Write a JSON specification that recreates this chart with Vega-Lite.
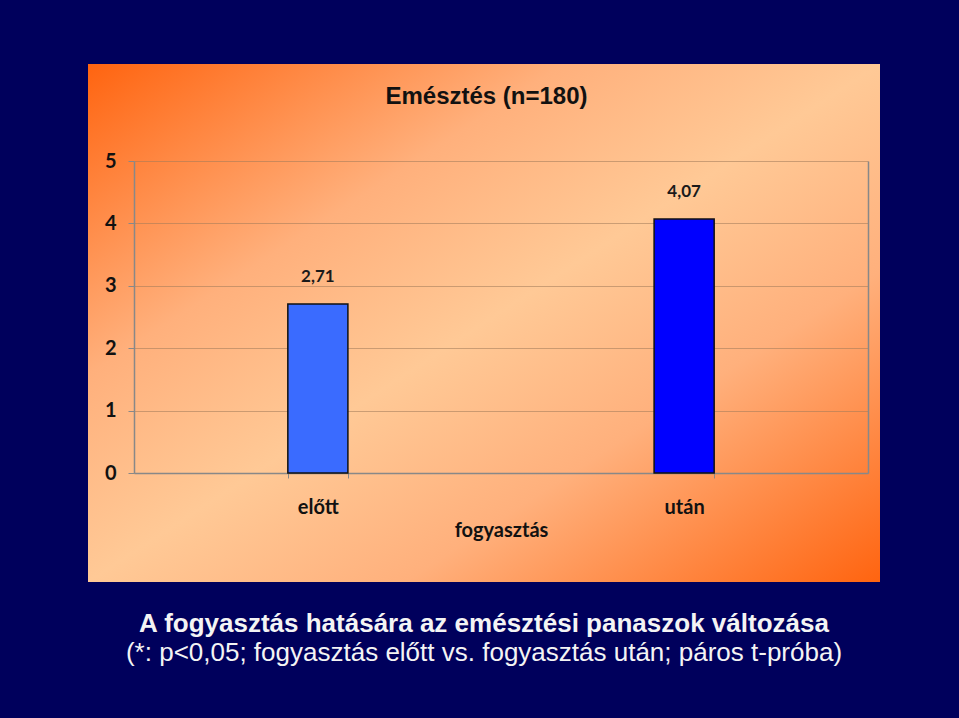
{
  "$schema": "https://vega.github.io/schema/vega-lite/v6.json",
  "autosize": {"type": "none"},
  "width": 792,
  "height": 518,
  "padding": {"left": 88, "top": 64, "right": 79, "bottom": 136},
  "background": "#00005c",
  "title": {
    "text": "A fogyasztás hatására az emésztési panaszok változása",
    "subtitle": "(*: p<0,05; fogyasztás előtt vs. fogyasztás után; páros t-próba)",
    "orient": "bottom",
    "anchor": "middle",
    "offset": 29,
    "baseline": "top",
    "font": "Liberation Sans",
    "fontSize": 26,
    "fontWeight": "bold",
    "color": "#f4f4f4",
    "subtitleFont": "Liberation Sans",
    "subtitleFontSize": 26,
    "subtitleFontWeight": "normal",
    "subtitleColor": "#f4f4f4",
    "subtitlePadding": 3
  },
  "data": {
    "values": [
      {"fogyasztás": "előtt", "érték": 2.71},
      {"fogyasztás": "után", "érték": 4.07}
    ]
  },
  "layer": [
    {
      "mark": {"type": "bar", "stroke": "#111111", "strokeWidth": 1.5},
      "encoding": {
        "x": {
          "field": "fogyasztás",
          "type": "nominal",
          "sort": null,
          "scale": {"range": [46, 780], "paddingInner": 0.836, "paddingOuter": 0.42},
          "axis": {
            "orient": "bottom",
            "offset": -109,
            "title": "fogyasztás",
            "titleFont": "Lato",
            "titleFontSize": 20,
            "titleFontWeight": "bold",
            "titleColor": "#111111",
            "titlePadding": 3,
            "labelAngle": 0,
            "labelFont": "Lato",
            "labelFontSize": 20,
            "labelFontWeight": "bold",
            "labelColor": "#111111",
            "labelPadding": 19,
            "labelBaseline": "top",
            "tickBand": "extent",
            "tickSize": 5,
            "tickColor": "#888888",
            "domainColor": "#888888",
            "domainWidth": 1.5,
            "grid": false
          }
        },
        "y": {
          "field": "érték",
          "type": "quantitative",
          "scale": {"domain": [0, 5], "range": [409, 97], "nice": false},
          "axis": {
            "orient": "left",
            "offset": -46,
            "title": null,
            "values": [0, 1, 2, 3, 4, 5],
            "format": "d",
            "labelFont": "Lato",
            "labelFontSize": 20,
            "labelFontWeight": "bold",
            "labelColor": "#111111",
            "labelPadding": 12,
            "tickSize": 6,
            "tickColor": "#888888",
            "domainColor": "#888888",
            "domainWidth": 1.5,
            "grid": true,
            "gridColor": "#a07a5a",
            "gridOpacity": 0.55,
            "gridWidth": 1
          }
        },
        "color": {
          "field": "fogyasztás",
          "type": "nominal",
          "sort": null,
          "scale": {"domain": ["előtt", "után"], "range": ["#3a6bff", "#0000ff"]},
          "legend": null
        }
      }
    },
    {
      "mark": {"type": "text", "dy": -27, "baseline": "middle", "font": "Lato", "fontSize": 17, "fontWeight": "bold", "color": "#1a1a1a"},
      "encoding": {
        "x": {
          "field": "fogyasztás",
          "type": "nominal",
          "sort": null,
          "axis": {
            "orient": "top",
            "title": "Emésztés (n=180)",
            "titleFont": "Liberation Sans",
            "titleFontSize": 24,
            "titleFontWeight": "bold",
            "titleColor": "#111111",
            "titleX": 398,
            "titleY": 32,
            "titleAlign": "center",
            "titleBaseline": "middle",
            "labels": false,
            "ticks": false,
            "domain": false,
            "grid": false
          }
        },
        "y": {
          "field": "érték",
          "type": "quantitative",
          "axis": {
            "orient": "right",
            "offset": -12,
            "title": null,
            "labels": false,
            "ticks": false,
            "grid": false,
            "domain": true,
            "domainColor": "#888888",
            "domainWidth": 1.5
          }
        },
        "text": {"field": "érték", "type": "quantitative", "format": ".2f"}
      }
    }
  ],
  "resolve": {"axis": {"x": "independent", "y": "independent"}},
  "config": {
    "locale": {
      "number": {"decimal": ",", "thousands": " ", "grouping": [3], "currency": ["", " Ft"]}
    },
    "view": {
      "stroke": null,
      "fill": {
        "gradient": "linear",
        "x1": 0, "y1": 0, "x2": 1, "y2": 1,
        "stops": [
          {"offset": 0, "color": "#ff6410"},
          {"offset": 0.3, "color": "#ffb07c"},
          {"offset": 0.5, "color": "#ffc996"},
          {"offset": 0.7, "color": "#ffb07c"},
          {"offset": 1, "color": "#ff6410"}
        ]
      }
    }
  }
}
